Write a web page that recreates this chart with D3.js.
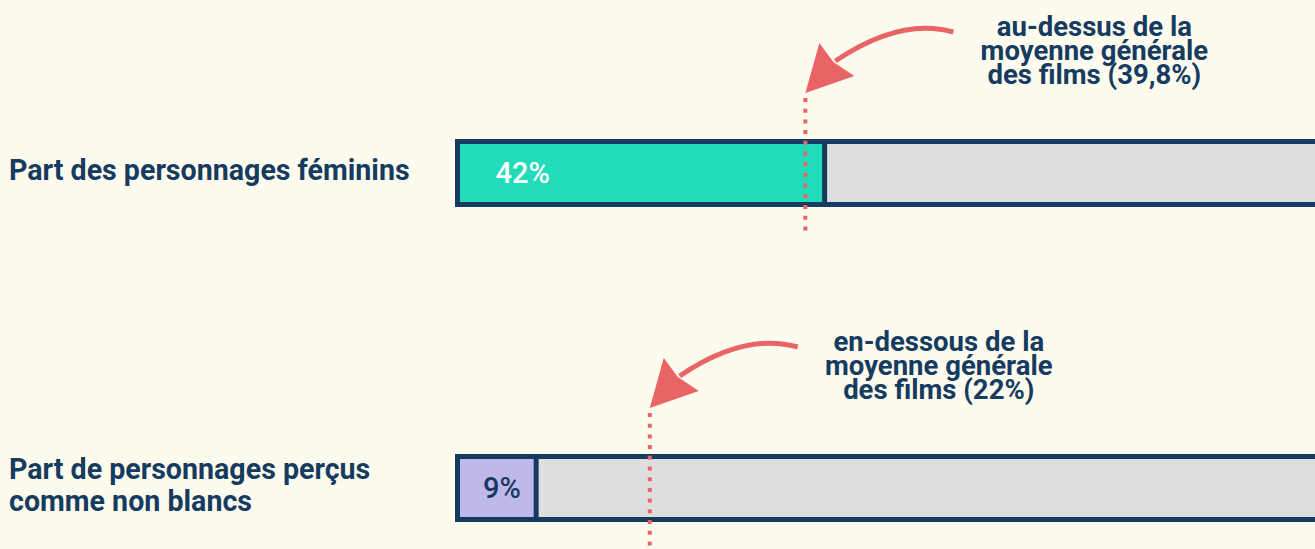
<!DOCTYPE html>
<html>
<head>
<meta charset="utf-8">
<script src="https://cdn.jsdelivr.net/npm/d3@7"></script>
<style>
  html, body { margin: 0; padding: 0; background: #fdfbee; }
  svg { display: block; font-family: Roboto, "Noto Sans", sans-serif; }
</style>
</head>
<body>
<div id="vis"></div>
<script>
// Chart data
var categories = ['Part des personnages féminins', 'Part de personnages perçus comme non blancs'];
var labelLines = [['Part des personnages féminins'], ['Part de personnages perçus', 'comme non blancs']];
var values = [42, 9];
var valueLabels = ['42%', '9%'];
var averages = [39.8, 22];
var noteLines = [
  ['au-dessus de la', 'moyenne générale', 'des films (39,8%)'],
  ['en-dessous de la', 'moyenne générale', 'des films (22%)']
];

var width = 1315;
var height = 549;

var navy = '#163b61';
var coral = '#e96565';
var fills = ['#22dbb8', '#c0b8e8'];
var labelColors = ['#ffffff', navy];

var svg = d3.select('#vis').append('svg')
  .attr('width', width)
  .attr('height', height);

svg.append('rect')
  .attr('width', width)
  .attr('height', height)
  .attr('fill', '#fdfbee');

// x scale: percent -> pixels, the track runs past the right edge
var x = d3.scaleLinear().domain([0, 100]).range([457.5, 1331.5]);
// row centres
var y = d3.scalePoint().domain(categories).range([173, 488]);
var barH = 63;

var rows = svg.selectAll('.row')
  .data(categories)
  .enter().append('g')
  .attr('class', 'row')
  .attr('transform', function (d) { return 'translate(0,' + y(d) + ')'; });

// left labels
rows.each(function (d, i) {
  var g = d3.select(this);
  var lines = labelLines[i];
  var lh = 32;
  var y0 = 7 - (lines.length - 1) * lh / 2;
  lines.forEach(function (t, j) {
    g.append('text')
      .attr('x', 9)
      .attr('y', y0 + j * lh)
      .attr('fill', navy)
      .attr('font-size', 28.6)
      .attr('font-weight', 700)
      .text(t);
  });
});

// grey track
rows.append('rect')
  .attr('x', x(0))
  .attr('y', -barH / 2)
  .attr('width', x(100) - x(0))
  .attr('height', barH)
  .attr('fill', '#dedede')
  .attr('stroke', navy)
  .attr('stroke-width', 5);

// value bar
rows.append('rect')
  .attr('x', x(0))
  .attr('y', -barH / 2)
  .attr('width', function (d, i) { return x(values[i]) - x(0); })
  .attr('height', barH)
  .attr('fill', function (d, i) { return fills[i]; })
  .attr('stroke', navy)
  .attr('stroke-width', 5);

// value labels
rows.append('text')
  .attr('x', function (d, i) {
    var w = x(values[i]) - x(0);
    return w > 120 ? x(0) + 38 : (x(0) + x(values[i])) / 2 + 5;
  })
  .attr('y', 10)
  .attr('text-anchor', function (d, i) { return (x(values[i]) - x(0)) > 120 ? 'start' : 'middle'; })
  .attr('fill', function (d, i) { return labelColors[i]; })
  .attr('font-size', 29)
  .attr('font-weight', 500)
  .text(function (d, i) { return valueLabels[i]; });

// average marker (dotted)
rows.append('line')
  .attr('x1', function (d, i) { return x(averages[i]); })
  .attr('x2', function (d, i) { return x(averages[i]); })
  .attr('y1', -75)
  .attr('y2', 64)
  .attr('stroke', coral)
  .attr('stroke-width', 4)
  .attr('stroke-dasharray', '4 6.7');

// arrows + notes
rows.each(function (d, i) {
  var g = d3.select(this);
  var ax = x(averages[i]);
  var tipY = -80;
  var path = d3.path();
  path.moveTo(ax + 148, -141);
  path.quadraticCurveTo(ax + 95, -156, ax + 30, -112);
  g.append('path')
    .attr('d', path.toString())
    .attr('fill', 'none')
    .attr('stroke', coral)
    .attr('stroke-width', 5);
  var head = [[ax, tipY], [ax + 14, tipY - 50], [ax + 28, tipY - 31], [ax + 49, tipY - 17]];
  g.append('polygon')
    .attr('points', head.map(function (p) { return p.join(','); }).join(' '))
    .attr('fill', coral);

  noteLines[i].forEach(function (t, j) {
    g.append('text')
      .attr('x', ax + 289)
      .attr('y', -137 + j * 24)
      .attr('text-anchor', 'middle')
      .attr('fill', navy)
      .attr('font-size', 27.5)
      .attr('font-weight', 700)
      .text(t);
  });
});
</script>
</body>
</html>
